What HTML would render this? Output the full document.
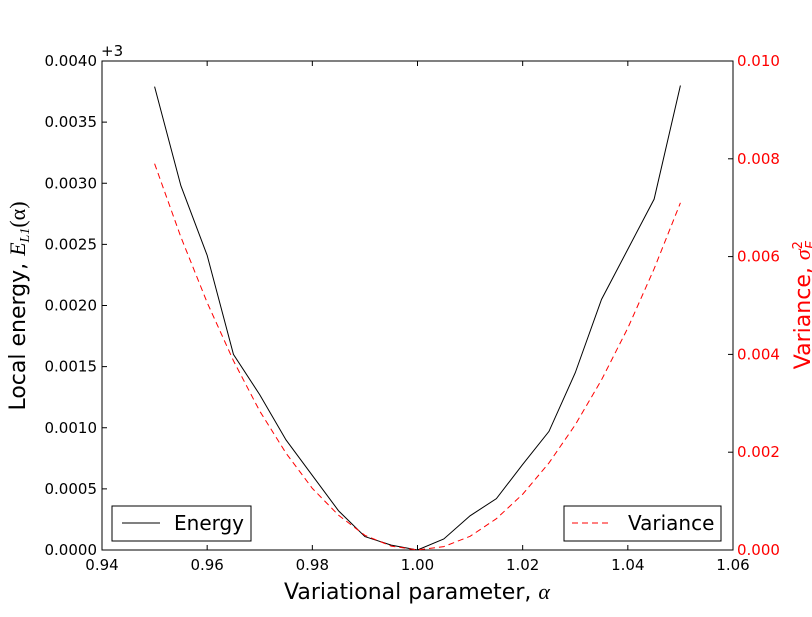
<!DOCTYPE html>
<html><head><meta charset="utf-8"><style>
body{margin:0;background:#fff;}
svg text{font-family:"DejaVu Sans","Liberation Sans",sans-serif;}
</style></head><body>
<svg id="chart" width="812" height="612" xmlns="http://www.w3.org/2000/svg">
<rect width="812" height="612" fill="#fff"/>
<g id="plot"></g>
</svg>
<script>
const alphas=[0.95,0.955,0.96,0.965,0.97,0.975,0.98,0.985,0.99,0.995,1.0,1.005,1.01,1.015,1.02,1.025,1.03,1.035,1.04,1.045,1.05];
const energy=[0.00379,0.00298,0.00241,0.00160,0.00127,0.00090,0.00061,0.00032,0.00011,0.00004,0.0,0.00009,0.00028,0.00042,0.00070,0.00097,0.00145,0.00205,0.00246,0.00287,0.00380];
const variance=[0.0079,0.0064,0.00506,0.00387,0.00284,0.00198,0.00126,0.00071,0.00030,0.00008,0.0,0.00007,0.00028,0.00064,0.00114,0.00178,0.00256,0.00348,0.00454,0.00575,0.0071];
const xTicks=[0.94,0.96,0.98,1.00,1.02,1.04,1.06];
const yLeftTicks=[0,0.0005,0.001,0.0015,0.002,0.0025,0.003,0.0035,0.004];
const yRightTicks=[0,0.002,0.004,0.006,0.008,0.010];
const L=102,R=733,T=61,B=550;
const xs=v=>L+(v-0.94)/0.12*(R-L);
const yl=v=>B-v/0.004*(B-T);
const yr=v=>B-v/0.010*(B-T);
const NS="http://www.w3.org/2000/svg";
const g=document.getElementById('plot');
function mk(tag,attrs,txt){const e=document.createElementNS(NS,tag);for(const k in attrs)e.setAttribute(k,attrs[k]);if(txt!==undefined)e.textContent=txt;g.appendChild(e);return e;}
let fr=mk('rect',{x:L,y:T,width:R-L,height:B-T,fill:'none',stroke:'#000','stroke-width':1});


xTicks.forEach(v=>{const x=xs(v);
 mk('line',{x1:x,x2:x,y1:B,y2:B-5,stroke:'#000'});mk('line',{x1:x,x2:x,y1:T,y2:T+5,stroke:'#000'});
 const t=mk('text',{x:x,y:B+20,'font-size':15,'text-anchor':'middle'},v.toFixed(2));
 
 });
yLeftTicks.forEach(v=>{const y=yl(v);
 mk('line',{x1:L,x2:L+5,y1:y,y2:y,stroke:'#000'});
 const t=mk('text',{x:L-5,y:y+5,'font-size':15,'text-anchor':'end'},v.toFixed(4));
 
 });
yRightTicks.forEach(v=>{const y=yr(v);
 mk('line',{x1:R,x2:R-5,y1:y,y2:y,stroke:'#000'});
 const t=mk('text',{x:R+4,y:y+5,'font-size':15,fill:'#f00'},v.toFixed(3));
 
 });
let off=mk('text',{x:101,y:56,'font-size':15},'+3');


let el=mk('polyline',{points:alphas.map((a,i)=>xs(a)+','+yl(energy[i])).join(' '),fill:'none',stroke:'#000','stroke-width':1});


let vl=mk('polyline',{points:alphas.map((a,i)=>xs(a)+','+yr(variance[i])).join(' '),fill:'none',stroke:'#f00','stroke-width':1,'stroke-dasharray':'6,4'});


let xt=mk('text',{x:417,y:599,'font-size':22,'text-anchor':'middle'},'Variational parameter, ');
const xa=document.createElementNS(NS,'tspan');xa.setAttribute('font-style','italic');xa.setAttribute('font-family','Liberation Serif, serif');xa.textContent='α';xt.appendChild(xa);


let ylt=mk('text',{x:0,y:0,'font-size':22,'text-anchor':'middle',transform:'translate(25,306) rotate(-90)'},'Local energy, ');
const ts=document.createElementNS(NS,'tspan');ts.setAttribute('font-style','italic');ts.setAttribute('font-family','Liberation Serif, serif');ts.textContent='E';ylt.appendChild(ts);
const ts2=document.createElementNS(NS,'tspan');ts2.setAttribute('font-size',14);ts2.setAttribute('dy',4);ts2.setAttribute('font-style','italic');ts2.setAttribute('font-family','Liberation Serif, serif');ts2.textContent='L1';ylt.appendChild(ts2);
const ts3=document.createElementNS(NS,'tspan');ts3.setAttribute('dy',-4);ts3.setAttribute('font-family','Liberation Serif, serif');ts3.textContent='(α)';ylt.appendChild(ts3);


let yrt=mk('text',{x:0,y:0,'font-size':22,fill:'#f00','text-anchor':'middle',transform:'translate(810,305) rotate(-90)'},'Variance, ');
const s1=document.createElementNS(NS,'tspan');s1.setAttribute('font-style','italic');s1.setAttribute('font-family','Liberation Serif, serif');s1.textContent='σ';yrt.appendChild(s1);
const s2=document.createElementNS(NS,'tspan');s2.setAttribute('font-size',13);s2.setAttribute('dy',-8);s2.textContent='2';yrt.appendChild(s2);
const s3=document.createElementNS(NS,'tspan');s3.setAttribute('font-size',13);s3.setAttribute('dx',-8);s3.setAttribute('dy',13);s3.setAttribute('font-style','italic');s3.textContent='E';yrt.appendChild(s3);


let lg1=mk('rect',{x:112,y:506,width:139,height:35,fill:'#fff',stroke:'#000'});


mk('line',{x1:122,x2:160,y1:523,y2:523,stroke:'#000'});
mk('text',{x:174,y:530,'font-size':20},'Energy');
let lg2=mk('rect',{x:564,y:506,width:157,height:35,fill:'#fff',stroke:'#000'});


mk('line',{x1:572,x2:612,y1:523,y2:523,stroke:'#f00','stroke-dasharray':'6,4'});
mk('text',{x:628,y:530,'font-size':20},'Variance');
</script>
</body></html>
